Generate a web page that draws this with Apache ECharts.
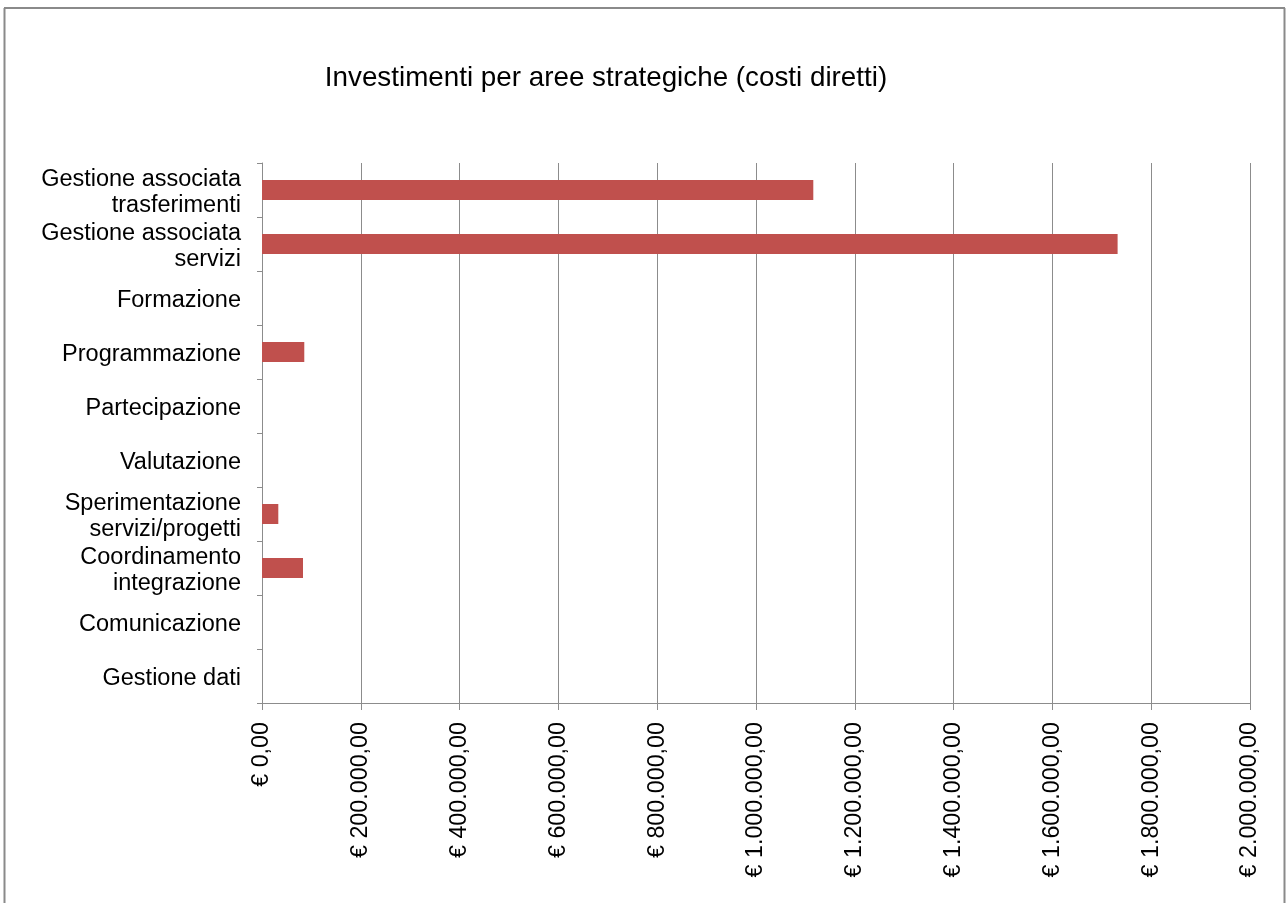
<!DOCTYPE html>
<html>
<head>
<meta charset="utf-8">
<script src="https://cdn.jsdelivr.net/npm/echarts@6/dist/echarts.min.js"></script>
<style>html,body{margin:0;padding:0;background:#fff;}#c{width:1286px;height:903px;}</style>
</head>
<body>
<div id="c"></div>
<script>
var titleText = 'Investimenti per aree strategiche (costi diretti)';
var categories = [
  'Gestione associata\ntrasferimenti',
  'Gestione associata\nservizi',
  'Formazione',
  'Programmazione',
  'Partecipazione',
  'Valutazione',
  'Sperimentazione\nservizi/progetti',
  'Coordinamento\nintegrazione',
  'Comunicazione',
  'Gestione dati'
];
var values = [1116000, 1732000, 0, 85600, 0, 0, 33000, 83000, 0, 0];
var axisMin = 0, axisMax = 2000000, axisStep = 200000;

function fmtEuro(v) {
  var s = Math.round(v).toString().replace(/\B(?=(\d{3})+(?!\d))/g, '.');
  return '€ ' + s + ',00';
}

var chart = echarts.init(document.getElementById('c'));
var font = '"Liberation Sans", Arial, sans-serif';
chart.setOption({
  animation: false,
  backgroundColor: '#ffffff',
  title: {
    text: titleText,
    left: 601,
    top: 59,
    textAlign: 'center',
    textStyle: { fontFamily: font, fontSize: 27.8, fontWeight: 'normal', color: '#000' }
  },
  grid: { left: 262, right: 36, top: 163, bottom: 200, containLabel: false },
  xAxis: {
    type: 'value',
    min: axisMin, max: axisMax, interval: axisStep,
    axisLine: { show: true, lineStyle: { color: '#8c8c8c', width: 1 } },
    axisTick: { show: true, length: 7, lineStyle: { color: '#8c8c8c' } },
    splitLine: { show: true, lineStyle: { color: '#8c8c8c', width: 1 } },
    axisLabel: {
      rotate: 90, margin: 19, color: '#000',
      fontFamily: font, fontSize: 23.3,
      formatter: fmtEuro
    }
  },
  yAxis: {
    type: 'category',
    inverse: true,
    data: categories,
    axisLine: { show: true, lineStyle: { color: '#8c8c8c', width: 1 } },
    axisTick: { show: true, length: 5, lineStyle: { color: '#8c8c8c' } },
    splitLine: { show: false },
    axisLabel: {
      interval: 0, showMinLabel: true, showMaxLabel: true, hideOverlap: false,
      margin: 21, color: '#000', fontFamily: font, fontSize: 23.5, lineHeight: 26, align: 'right',
      padding: [5, 0, 0, 0],
      formatter: function (v) { return v; },
      rich: {}
    }
  },
  series: [{
    type: 'bar',
    data: values,
    barWidth: 20,
    itemStyle: { color: '#C0504D' }
  }],
  graphic: [
    { type: 'line', shape: { x1: 4, y1: 8, x2: 1285, y2: 8 }, style: { stroke: '#8a8a8a', lineWidth: 2 } },
    { type: 'line', shape: { x1: 4.5, y1: 8, x2: 4.5, y2: 903 }, style: { stroke: '#8a8a8a', lineWidth: 2 } },
    { type: 'line', shape: { x1: 1284.5, y1: 8, x2: 1284.5, y2: 903 }, style: { stroke: '#8a8a8a', lineWidth: 2 } }
  ]
});
</script>
</body>
</html>
